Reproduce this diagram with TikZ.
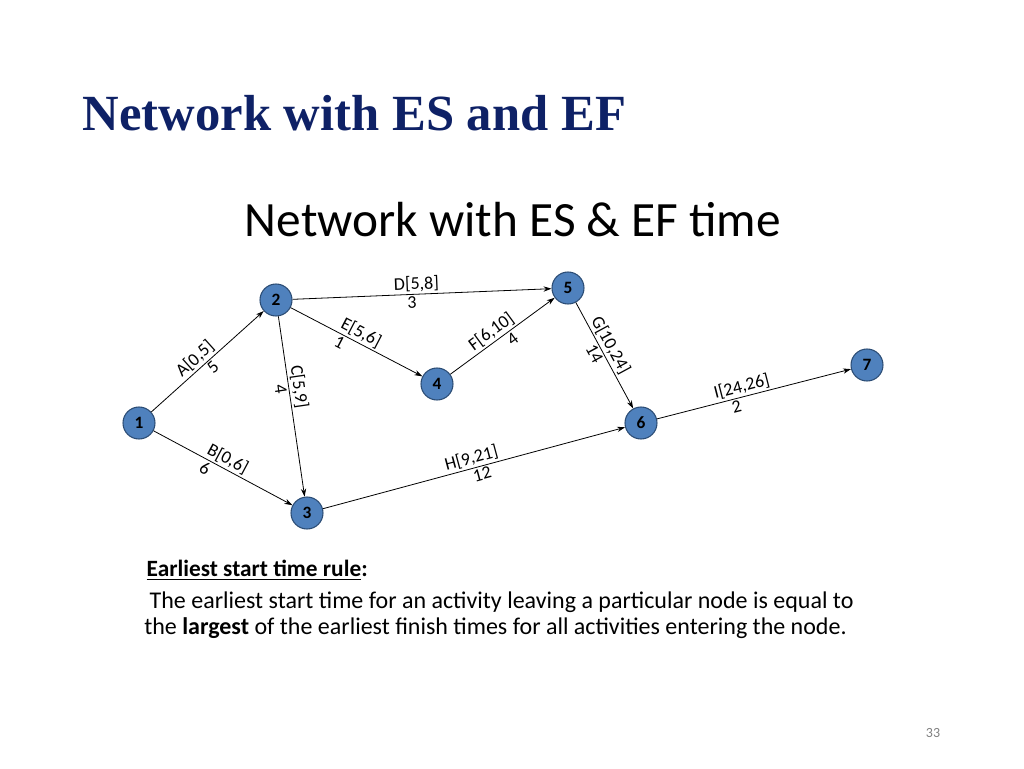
\documentclass[tikz,border=0pt]{standalone}
\usepackage{fontspec}
\setmainfont{Liberation Serif}
\newfontfamily\calfont{Carlito}
\usetikzlibrary{arrows.meta}
\definecolor{navy}{HTML}{0E2166}
\definecolor{nodeblue}{HTML}{4F81BD}
\definecolor{nodeedge}{HTML}{2C4D75}
\begin{document}
\begin{tikzpicture}[x=0.75pt,y=-0.75pt,
  ev/.style={circle,fill=nodeblue,draw=nodeedge,line width=0.8pt,minimum size=24pt,inner sep=0pt,font=\calfont\fontsize{13}{13}\selectfont\bfseries},
  act/.style={-{Stealth[length=6pt,width=4pt]},line width=0.6pt},
  lab/.style={font=\calfont\fontsize{13.5}{13.5}\selectfont,inner sep=1.5pt,sloped}]
\useasboundingbox (0,0) rectangle (1024,768);
\node[anchor=west,font=\fontsize{38}{38}\selectfont\bfseries,text=navy] (title) at (78,113) {Network with ES and EF};
\node[font=\calfont\fontsize{37}{37}\selectfont] (sub) at (513,220) {Network with ES \& EF time};
\node[ev] (n1) at (139,423) {1};
\node[ev] (n2) at (276,300) {2};
\node[ev] (n3) at (307,513) {3};
\node[ev] (n4) at (437,384) {4};
\node[ev] (n5) at (568,288) {5};
\node[ev] (n6) at (641,423) {6};
\node[ev] (n7) at (867,365) {7};
\draw[act] (n1) -- node[lab,above,pos=0.45] (la) {A[0,5]} node[lab,below,pos=0.5] (la2) {5} (n2);
\draw[act] (n1) -- node[lab,above,pos=0.5] (lb) {B[0,6]} node[lab,below,pos=0.4] (lb2) {6} (n3);
\draw[act] (n2) -- node[lab,above,pos=0.4] (lc) {C[5,9]} node[lab,below,pos=0.4] (lc2) {4} (n3);
\draw[act] (n2) -- node[lab,above,pos=0.48] (ld) {D[5,8]} node[lab,below,pos=0.46] (ld2) {3} (n5);
\draw[act] (n2) -- node[lab,above,pos=0.5] (le) {E[5,6]} node[lab,below,pos=0.4] (le2) {1} (n4);
\draw[act] (n4) -- node[lab,above,pos=0.45] (lf) {F[6,10]} node[lab,below,pos=0.55] (lf2) {4} (n5);
\draw[act] (n5) -- node[lab,above,pos=0.45] (lg) {G[10,24]} node[lab,below,pos=0.45] (lg2) {14} (n6);
\draw[act] (n3) -- node[lab,above,pos=0.5] (lh) {H[9,21]} node[lab,below,pos=0.52] (lh2) {12} (n6);
\draw[act] (n6) -- node[lab,above,pos=0.45] (li) {I[24,26]} node[lab,below,pos=0.4] (li2) {2} (n7);
\node[anchor=west,font=\calfont\fontsize{17.5}{17.5}\selectfont\bfseries] (rule) at (142,570) {\underline{Earliest start time rule}:};
\node[anchor=north west,align=left,font=\calfont\fontsize{18}{19.5}\selectfont,inner sep=0pt] (txt) at (144,592) {\ The earliest start time for an activity leaving a particular node is equal to\\the \textbf{largest} of the earliest finish times for all activities entering the node.};
\node[font=\calfont\fontsize{10.5}{10.5}\selectfont,text=gray] (pg) at (933,733) {33};
\end{tikzpicture}
\end{document}
